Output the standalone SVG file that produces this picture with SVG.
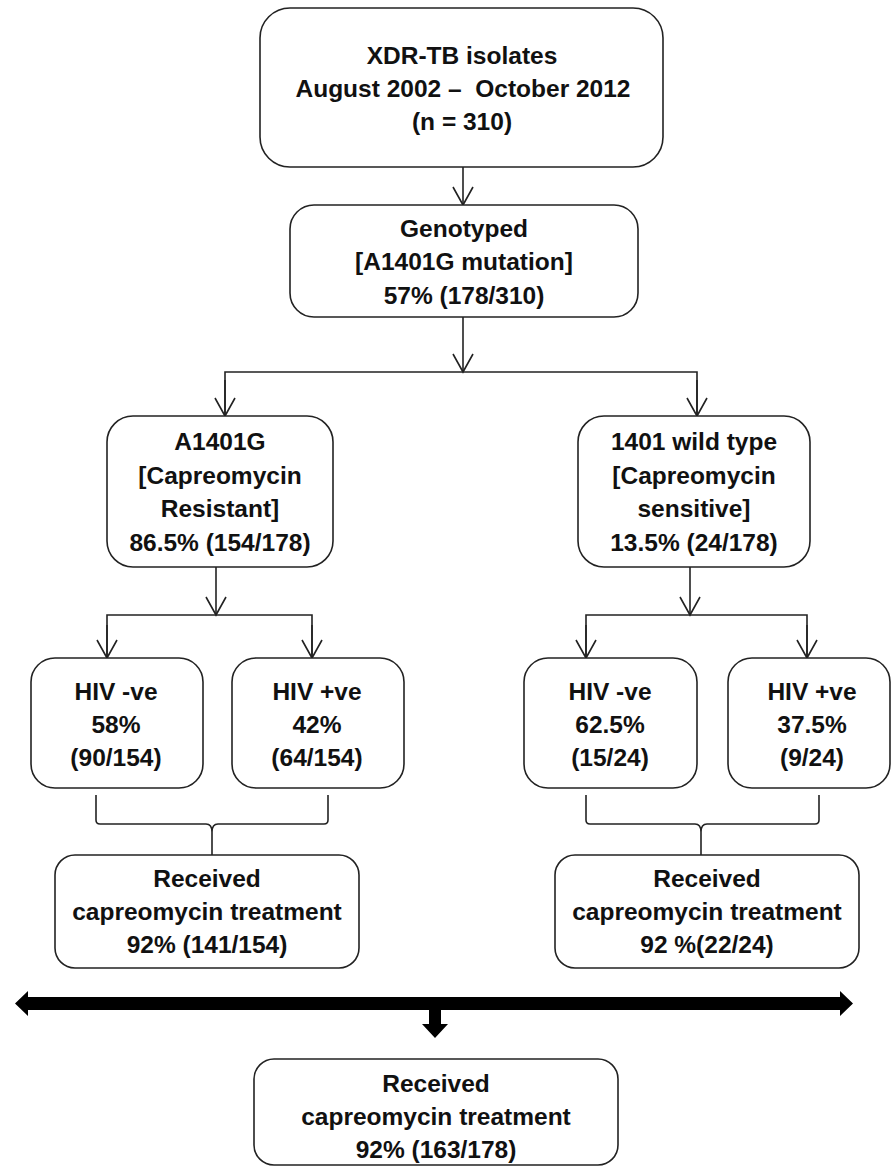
<svg xmlns="http://www.w3.org/2000/svg" width="892" height="1169" viewBox="0 0 892 1169">
<style>
.box{fill:#fff;stroke:#222;stroke-width:1.6}
.t{font-family:"Liberation Sans",Arial,sans-serif;font-weight:bold;font-size:24.5px;fill:#111;text-anchor:middle}
.ln{fill:none;stroke:#222;stroke-width:1.6}
</style>
<defs>
<marker id="ah" markerUnits="userSpaceOnUse" markerWidth="24" markerHeight="24" viewBox="-20 -12 24 24" refX="0" refY="0" orient="auto">
<path d="M-18,-10 L0,0 L-18,10" fill="none" stroke="#222" stroke-width="1.6"/>
</marker>
</defs>
<rect width="892" height="1169" fill="#fff"/>
<g id="connectors">
<line class="ln" x1="463" y1="167" x2="463" y2="205" marker-end="url(#ah)"/>
<line class="ln" x1="463" y1="317" x2="463" y2="372" marker-end="url(#ah)"/>
<polyline class="ln" points="225,416 225,372 697,372 697,416"/>
<line class="ln" x1="225" y1="380" x2="225" y2="416" marker-end="url(#ah)"/>
<line class="ln" x1="697" y1="380" x2="697" y2="416" marker-end="url(#ah)"/>
<line class="ln" x1="216" y1="567" x2="216" y2="615" marker-end="url(#ah)"/>
<polyline class="ln" points="107,658 107,615 312,615 312,658"/>
<line class="ln" x1="107" y1="625" x2="107" y2="658" marker-end="url(#ah)"/>
<line class="ln" x1="312" y1="625" x2="312" y2="658" marker-end="url(#ah)"/>
<line class="ln" x1="690" y1="567" x2="690" y2="615" marker-end="url(#ah)"/>
<polyline class="ln" points="586,658 586,615 807,615 807,658"/>
<line class="ln" x1="586" y1="625" x2="586" y2="658" marker-end="url(#ah)"/>
<line class="ln" x1="807" y1="625" x2="807" y2="658" marker-end="url(#ah)"/>
<path class="ln" d="M96,795 L96,820 Q96,824 100,824 L206,824 Q212,824 212,832 L212,855 M328,795 L328,820 Q328,824 324,824 L218,824 Q212,824 212,832"/>
<path class="ln" d="M586,795 L586,820 Q586,824 590,824 L695,824 Q701,824 701,832 L701,855 M819,795 L819,820 Q819,824 815,824 L707,824 Q701,824 701,832"/>
<path d="M15,1003.5 L28,991 L28,997 L840,997 L840,991 L853,1003.5 L840,1016 L840,1010 L28,1010 L28,1016 Z" fill="#000"/>
<path d="M429,1010 L441,1010 L441,1024 L448,1024 L435,1038 L422,1024 L429,1024 Z" fill="#000"/>
</g>
<g id="n_xdr">
<rect class="box" x="260" y="8" width="403" height="159" rx="30"/>
<text class="t" x="462" y="64">XDR-TB isolates</text>
<text class="t" x="463" y="97" xml:space="preserve">August 2002 –  October 2012</text>
<text class="t" x="462" y="130">(n = 310)</text>
</g>
<g id="n_geno">
<rect class="box" x="290" y="205" width="348" height="112" rx="24"/>
<text class="t" x="464" y="237">Genotyped</text>
<text class="t" x="464" y="270">[A1401G mutation]</text>
<text class="t" x="464" y="304">57% (178/310)</text>
</g>
<g id="n_a1401g">
<rect class="box" x="107" y="416" width="226" height="151" rx="26"/>
<text class="t" x="220" y="450">A1401G</text>
<text class="t" x="220" y="484">[Capreomycin</text>
<text class="t" x="220" y="517">Resistant]</text>
<text class="t" x="220" y="551">86.5% (154/178)</text>
</g>
<g id="n_wild">
<rect class="box" x="578" y="416" width="232" height="151" rx="26"/>
<text class="t" x="694" y="450">1401 wild type</text>
<text class="t" x="694" y="484">[Capreomycin</text>
<text class="t" x="694" y="517">sensitive]</text>
<text class="t" x="694" y="551">13.5% (24/178)</text>
</g>
<g id="n_a_neg">
<rect class="box" x="31" y="658" width="172" height="130" rx="24"/>
<text class="t" x="116" y="700">HIV -ve</text>
<text class="t" x="116" y="733">58%</text>
<text class="t" x="116" y="766">(90/154)</text>
</g>
<g id="n_a_pos">
<rect class="box" x="232" y="658" width="172" height="130" rx="24"/>
<text class="t" x="317" y="700">HIV +ve</text>
<text class="t" x="317" y="733">42%</text>
<text class="t" x="317" y="766">(64/154)</text>
</g>
<g id="n_w_neg">
<rect class="box" x="524" y="658" width="173" height="130" rx="24"/>
<text class="t" x="610" y="700">HIV -ve</text>
<text class="t" x="610" y="733">62.5%</text>
<text class="t" x="610" y="766">(15/24)</text>
</g>
<g id="n_w_pos">
<rect class="box" x="728" y="658" width="162" height="130" rx="24"/>
<text class="t" x="812" y="700">HIV +ve</text>
<text class="t" x="812" y="733">37.5%</text>
<text class="t" x="812" y="766">(9/24)</text>
</g>
<g id="n_a_rx">
<rect class="box" x="55" y="855" width="304" height="113" rx="20"/>
<text class="t" x="207" y="887">Received</text>
<text class="t" x="207" y="920">capreomycin treatment</text>
<text class="t" x="207" y="953">92% (141/154)</text>
</g>
<g id="n_w_rx">
<rect class="box" x="555" y="855" width="304" height="113" rx="20"/>
<text class="t" x="707" y="887">Received</text>
<text class="t" x="707" y="920">capreomycin treatment</text>
<text class="t" x="707" y="953">92 %(22/24)</text>
</g>
<g id="n_total">
<rect class="box" x="254" y="1059" width="364" height="106" rx="20"/>
<text class="t" x="436" y="1092">Received</text>
<text class="t" x="436" y="1125">capreomycin treatment</text>
<text class="t" x="436" y="1158">92% (163/178)</text>
</g>
</svg>
